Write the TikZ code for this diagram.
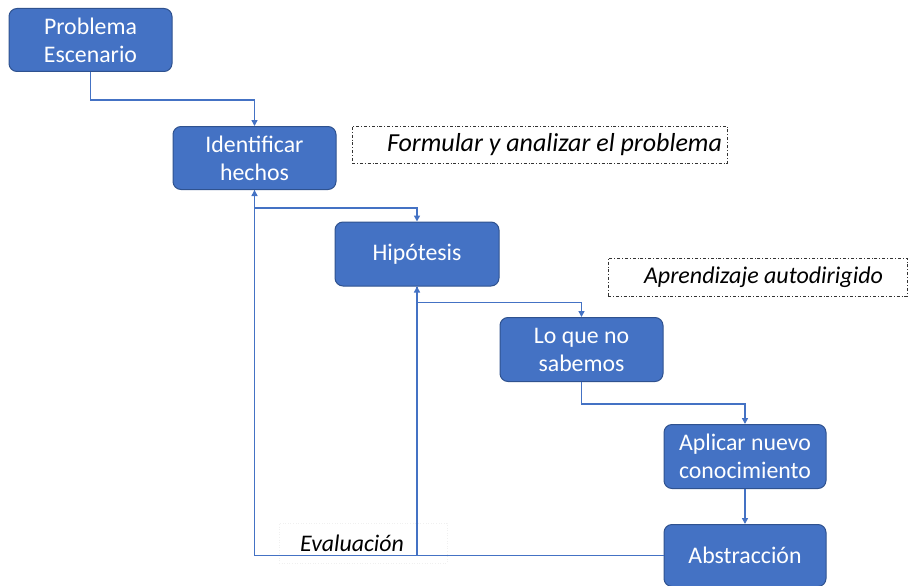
\documentclass[tikz,border=0pt]{standalone}
\usepackage{fontspec}
\setmainfont{Carlito}
\usetikzlibrary{arrows.meta}
\definecolor{boxblue}{HTML}{4472C4}
\definecolor{boxedge}{HTML}{2F528F}
\begin{document}
\begin{tikzpicture}[x=1pt,y=-1pt,
  stepbox/.style={draw=boxedge,line width=1pt,fill=boxblue,rounded corners=8pt,text=white,
    align=center,font=\fontsize{23.8}{28}\selectfont,inner sep=0pt},
  note/.style={draw=black!80,line width=0.8pt,dash dot,align=center,
    font=\fontsize{24}{28}\selectfont\itshape,inner sep=0pt},
  conn/.style={draw=boxblue,line width=1.6pt,-{Triangle[width=6pt,length=6pt]}}]
\useasboundingbox (0,0) rectangle (910,586);
\node[stepbox,minimum width=163pt,minimum height=63pt] (b1) at (90.5,40) {Problema\\Escenario};
\node[stepbox,minimum width=163pt,minimum height=63pt] (b2) at (254.5,158) {Identificar\\hechos};
\node[stepbox,minimum width=164pt,minimum height=64pt] (b3) at (417,254) {Hipótesis};
\node[stepbox,minimum width=163pt,minimum height=64pt] (b4) at (581.5,349.5) {Lo que no\\sabemos};
\node[stepbox,minimum width=162pt,minimum height=64pt] (b5) at (745,456.5) {Aplicar nuevo\\conocimiento};
\node[stepbox,minimum width=162pt,minimum height=62pt] (b6) at (745,555.5) {Abstracción};
\node[note,minimum width=375pt,minimum height=37pt,font=\fontsize{26}{28}\selectfont\itshape] (n1) at (539.5,144.5) {\hspace*{30pt}Formular y analizar el problema};
\node[note,minimum width=299pt,minimum height=38pt] (n2) at (757.5,277) {\hspace*{12pt}Aprendizaje autodirigido};
\node[draw=black!6,line width=0.6pt,dotted,minimum width=168pt,minimum height=40pt,inner sep=0pt] (n3) at (363,543) {};
\node[font=\fontsize{23.8}{28}\selectfont\itshape,inner sep=0pt] (ev) at (352,543) {Evaluación};
\draw[conn] (b1.south) -- ++(0,28) -| (b2.north);
\draw[conn] (b2.south) -- ++(0,18) -| (b3.north);
\draw[conn] (b3.south) -- ++(0,16) -| (b4.north);
\draw[conn] (b4.south) -- ++(0,22) -| (b5.north);
\draw[conn] (b5.south) -- (b6.north);
\draw[conn] (b6.west) -| (b2.south);
\coordinate (j) at (b3.south |- b6.west);
\draw[conn] (j) -- (b3.south);
\end{tikzpicture}
\end{document}
